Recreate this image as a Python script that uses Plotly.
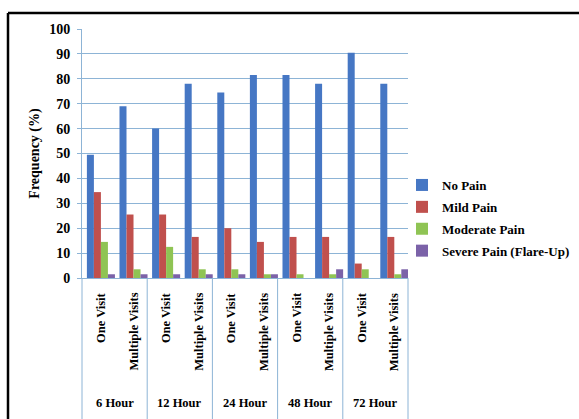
import plotly.graph_objects as go

inner_labels = ["One Visit", "Multiple Visits"] * 5
group_labels = ["6 Hour", "12 Hour", "24 Hour", "48 Hour", "72 Hour"]
series_names = ["No Pain", "Mild Pain", "Moderate Pain", "Severe Pain (Flare-Up)"]
no_pain = [49.5, 69, 60, 78, 74.5, 81.5, 81.5, 78, 90.5, 78]
mild_pain = [34.5, 25.5, 25.5, 16.5, 20, 14.5, 16.5, 16.5, 5.8, 16.5]
moderate_pain = [14.5, 3.5, 12.5, 3.5, 3.5, 1.5, 1.5, 1.5, 3.5, 1.5]
severe_pain = [1.5, 1.5, 1.5, 1.5, 1.5, 1.5, 0, 3.5, 0, 3.5]
series_values = [no_pain, mild_pain, moderate_pain, severe_pain]
colors = ["#4677C4", "#C0504D", "#8FC454", "#7B62A8"]
y_ticks = list(range(0, 101, 10))

FONT = "Liberation Serif, Tinos, Times New Roman, serif"
GRID = "#8DB4D6"

x = list(range(len(inner_labels)))
fig = go.Figure()
for i, (name, vals, col) in enumerate(zip(series_names, series_values, colors)):
    fig.add_trace(go.Bar(
        x=x, y=vals, name=f"<b>{name}</b>", marker=dict(color=col, line=dict(width=0)),
        legendgroup=f"g{i}",
    ))

L, R, T, B = 82, 408, 29, 278
W, H = 579, 419
pw, ph = R - L, B - T

def py(pix):
    return (B - pix) / ph

def px(pix):
    return (pix - L) / pw

XSHIFT = 0.08
annotations = []
for i, lab in enumerate(inner_labels):
    annotations.append(dict(
        x=i, xref="x", y=py(291), yref="paper", text=f"<b>{lab}</b>",
        textangle=-90, xanchor="center", yanchor="top", showarrow=False,
        font=dict(family=FONT, size=12.5, color="black"),
    ))
for g, lab in enumerate(group_labels):
    annotations.append(dict(
        x=2 * g + 0.5 - XSHIFT, xref="x", y=py(403), yref="paper", text=f"<b>{lab}</b>",
        xanchor="center", yanchor="middle", showarrow=False,
        font=dict(family=FONT, size=12.5, color="black"),
    ))

shapes = []
for k in range(6):
    shapes.append(dict(type="line", xref="paper", yref="paper", x0=k * 0.2, x1=k * 0.2,
                       y0=0, y1=py(419), line=dict(color=GRID, width=1)))
# outer frame (black border at top and left)
shapes.append(dict(type="line", xref="paper", yref="paper", x0=px(8), x1=px(579),
                   y0=py(13), y1=py(13), line=dict(color="black", width=2.5)))
shapes.append(dict(type="line", xref="paper", yref="paper", x0=px(8), x1=px(8),
                   y0=py(13), y1=py(419), line=dict(color="black", width=2.5)))

fig.update_layout(
    width=W, height=H,
    margin=dict(l=L, r=W - R, t=T, b=H - B, autoexpand=False),
    paper_bgcolor="white", plot_bgcolor="white",
    barmode="group", bargap=0.14, bargroupgap=0.0,
    font=dict(family=FONT, size=12, color="black"),
    xaxis=dict(range=[-0.5 - XSHIFT, 9.5 - XSHIFT], showticklabels=False, showgrid=False,
               showline=True, linecolor=GRID, ticks="", zeroline=False, fixedrange=True),
    yaxis=dict(range=[0, 100], tickvals=y_ticks, ticktext=[f"<b>{v}</b>" for v in y_ticks],
               showgrid=True, gridcolor=GRID, gridwidth=1, showline=True, linecolor=GRID,
               ticks="outside", ticklen=4, tickcolor=GRID, zeroline=False,
               ticklabelstandoff=4,
               tickfont=dict(family=FONT, size=14, color="black"),
               title=dict(text="<b>Frequency (%)</b>", font=dict(family=FONT, size=14, color="black"),
                          standoff=6)),
    legend=dict(x=px(402), xanchor="left", y=py(170), yanchor="top",
                font=dict(family=FONT, size=13, color="black"),
                traceorder="grouped", tracegroupgap=2, itemwidth=30,
                bgcolor="rgba(0,0,0,0)"),
    annotations=annotations, shapes=shapes,
    showlegend=True,
)

fig.write_html("out.html")
